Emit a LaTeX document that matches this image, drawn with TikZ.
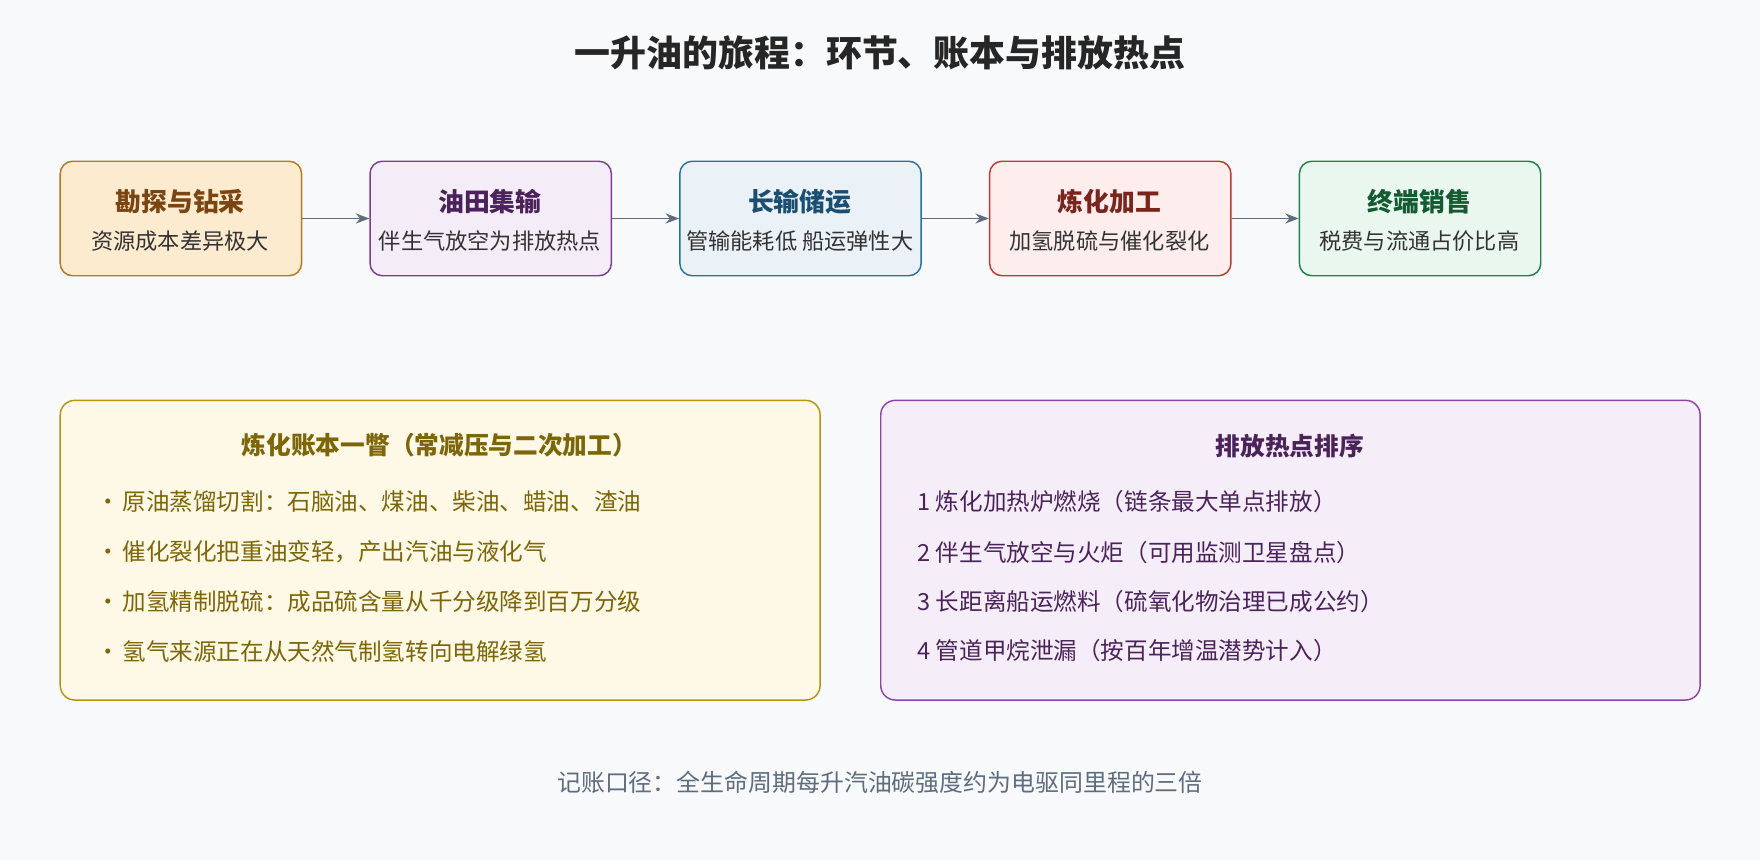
\documentclass[tikz,border=0pt]{standalone}
\usepackage{fontspec}
\setmainfont{Noto Sans CJK SC}
\usetikzlibrary{arrows.meta}
\definecolor{bgc}{HTML}{F8F9FA}
\definecolor{arr}{HTML}{5D6D7E}
\definecolor{b1}{HTML}{B7791F}\definecolor{f1}{HTML}{FDEBD0}\definecolor{t1}{HTML}{7A4510}
\definecolor{b2}{HTML}{7D3C98}\definecolor{f2}{HTML}{F4ECF7}\definecolor{t2}{HTML}{4A235A}
\definecolor{b3}{HTML}{2471A3}\definecolor{f3}{HTML}{EAF2F8}\definecolor{t3}{HTML}{1B4F72}
\definecolor{b4}{HTML}{C0392B}\definecolor{f4}{HTML}{FDEDEC}\definecolor{t4}{HTML}{7B241C}
\definecolor{b5}{HTML}{1E8449}\definecolor{f5}{HTML}{E9F7EF}\definecolor{t5}{HTML}{145A32}
\definecolor{bl}{HTML}{B7950B}\definecolor{fl}{HTML}{FEF9E7}\definecolor{tl}{HTML}{7D6608}
\definecolor{br}{HTML}{8E44AD}\definecolor{fr}{HTML}{F5EEF8}\definecolor{tr}{HTML}{4A235A}
\definecolor{body}{HTML}{333333}
\tikzset{
 stage/.style={draw, line width=1.3pt, rounded corners=11pt, minimum width=215pt, minimum height=102pt, anchor=north west},
 hd/.style={font=\fontsize{23}{27}\selectfont\bfseries},
 sb/.style={font=\fontsize{19.8}{23}\selectfont, text=body},
 panel/.style={draw, line width=1.3pt, rounded corners=13pt},
 ptitle/.style={font=\fontsize{22}{26}\selectfont\bfseries},
 item/.style={font=\fontsize{21}{25}\selectfont, anchor=west},
 con/.style={draw=arr, line width=1.4pt, -{Stealth[length=12pt,width=9pt]}}
}
\begin{document}
\begin{tikzpicture}[x=1pt,y=-1pt]
\fill[bgc] (0,0) rectangle (1568,766);
\useasboundingbox (0,0) rectangle (1568,766);
\node[font=\fontsize{32}{38}\selectfont\bfseries, text=black!85] (title) at (784,47) {一升油的旅程：环节、账本与排放热点};
% stages
\node[stage, draw=b1, fill=f1] (s1) at (53,143) {};
\node[stage, draw=b2, fill=f2] (s2) at (329,143) {};
\node[stage, draw=b3, fill=f3] (s3) at (605,143) {};
\node[stage, draw=b4, fill=f4] (s4) at (881,143) {};
\node[stage, draw=b5, fill=f5] (s5) at (1157,143) {};
\node[hd, text=t1] (h1) at (160.5,180) {勘探与钻采};
\node[sb] (d1) at (160.5,215) {资源成本差异极大};
\node[hd, text=t2] (h2) at (436.5,180) {油田集输};
\node[sb] (d2) at (436.5,215) {伴生气放空为排放热点};
\node[hd, text=t3] (h3) at (712.5,180) {长输储运};
\node[sb] (d3) at (712.5,215) {管输能耗低 船运弹性大};
\node[hd, text=t4] (h4) at (988.5,180) {炼化加工};
\node[sb] (d4) at (988.5,215) {加氢脱硫与催化裂化};
\node[hd, text=t5] (h5) at (1264.5,180) {终端销售};
\node[sb] (d5) at (1264.5,215) {税费与流通占价比高};
\draw[con] (s1) -- (s2);
\draw[con] (s2) -- (s3);
\draw[con] (s3) -- (s4);
\draw[con] (s4) -- (s5);
% panels
\node[panel, draw=bl, fill=fl, minimum width=677pt, minimum height=267pt, anchor=north west] (pl) at (53,356) {};
\node[panel, draw=br, fill=fr, minimum width=730pt, minimum height=267pt, anchor=north west] (pr) at (784,356) {};
\node[ptitle, text=tl] (plt) at (391.5,397) {炼化账本一瞥（常减压与二次加工）};
\node[item, text=tl] (l1) at (82,447) {·\hspace{-2pt} 原油蒸馏切割：石脑油、煤油、柴油、蜡油、渣油};
\node[item, text=tl] (l2) at (82,492) {·\hspace{-2pt} 催化裂化把重油变轻，产出汽油与液化气};
\node[item, text=tl] (l3) at (82,536) {·\hspace{-2pt} 加氢精制脱硫：成品硫含量从千分级降到百万分级};
\node[item, text=tl] (l4) at (82,580) {·\hspace{-2pt} 氢气来源正在从天然气制氢转向电解绿氢};
\node[ptitle, text=tr] (prt) at (1149,397) {排放热点排序};
\node[item, text=tr] (r1) at (814,447) {1 炼化加热炉燃烧（链条最大单点排放）};
\node[item, text=tr] (r2) at (814,492) {2 伴生气放空与火炬（可用监测卫星盘点）};
\node[item, text=tr] (r3) at (814,536) {3 长距离船运燃料（硫氧化物治理已成公约）};
\node[item, text=tr] (r4) at (814,580) {4 管道甲烷泄漏（按百年增温潜势计入）};
\node[font=\fontsize{21.3}{25}\selectfont, text=arr] (foot) at (784,697) {记账口径：全生命周期每升汽油碳强度约为电驱同里程的三倍};
\end{tikzpicture}
\end{document}
